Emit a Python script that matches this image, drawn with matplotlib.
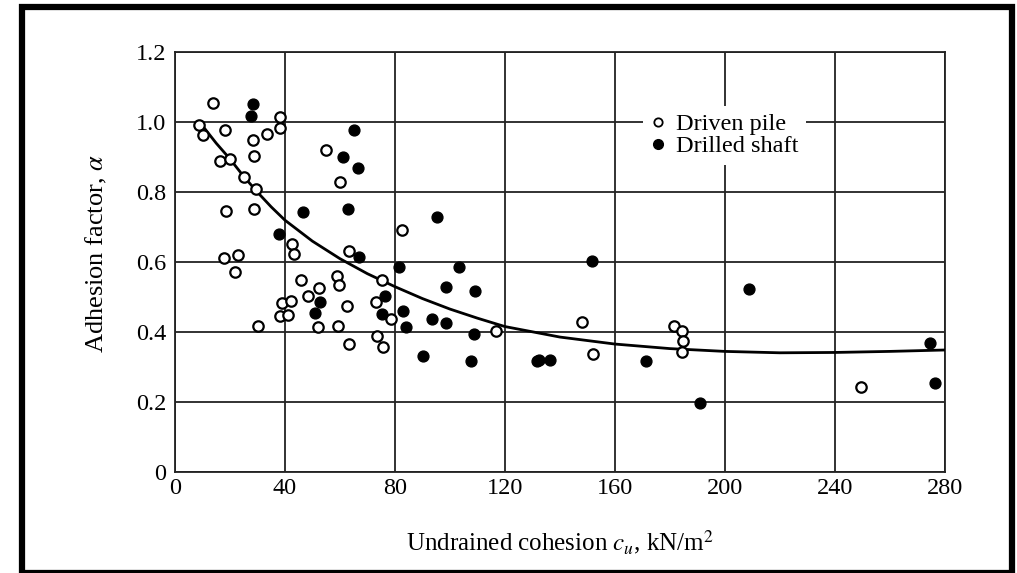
import matplotlib
matplotlib.use("Agg")
import matplotlib.pyplot as plt
from matplotlib.lines import Line2D
from matplotlib.patches import Rectangle

plt.rcParams["font.family"] = ["Liberation Serif", "DejaVu Serif"]
plt.rcParams["mathtext.fontset"] = "stix"

# Driven piles (open circles)
driven_cu = [8.7, 10.2, 13.8, 18.2, 28.4, 33.5, 38.2, 38.2, 16.4, 20.0, 28.7,
             25.1, 29.5, 18.5, 28.7, 42.5, 43.3, 60.0, 54.9, 63.3, 17.8, 22.9,
             21.8, 45.8, 52.4, 48.4, 58.9, 59.6, 38.9, 42.2, 38.2, 41.1, 62.5,
             30.2, 52.0, 59.3, 63.3, 82.5, 75.3, 73.1, 78.5, 73.5, 75.6, 116.7,
             148.0, 152.0, 181.5, 184.4, 184.7, 184.4, 249.5]
driven_alpha = [0.991, 0.963, 1.054, 0.977, 0.949, 0.966, 1.014, 0.983, 0.889,
                0.894, 0.903, 0.843, 0.809, 0.746, 0.751, 0.651, 0.623, 0.829,
                0.920, 0.631, 0.611, 0.620, 0.571, 0.549, 0.526, 0.503, 0.560,
                0.534, 0.483, 0.489, 0.446, 0.449, 0.474, 0.417, 0.414, 0.417,
                0.366, 0.691, 0.549, 0.486, 0.437, 0.389, 0.357, 0.403, 0.429,
                0.337, 0.417, 0.403, 0.374, 0.343, 0.243]

# Drilled shafts (filled circles)
drilled_cu = [28.4, 27.6, 65.1, 61.1, 66.5, 46.5, 62.9, 37.8, 66.9, 52.7, 50.9,
              95.3, 81.5, 103.3, 98.5, 109.1, 76.4, 82.9, 75.3, 93.5, 98.5, 84.0,
              108.7, 90.2, 107.6, 131.6, 151.6, 132.4, 136.4, 171.3, 191.0,
              208.7, 274.5, 276.4]
drilled_alpha = [1.051, 1.017, 0.977, 0.900, 0.869, 0.743, 0.751, 0.680, 0.614,
                 0.486, 0.454, 0.729, 0.585, 0.585, 0.529, 0.517, 0.503, 0.460,
                 0.451, 0.437, 0.426, 0.414, 0.394, 0.331, 0.317, 0.317, 0.603,
                 0.320, 0.320, 0.317, 0.197, 0.523, 0.369, 0.254]

# Average trend curve
trend_cu = [9, 15, 20, 25, 30, 35, 40, 50, 60, 70, 80, 90, 100, 110, 120, 140,
            160, 180, 200, 220, 240, 260, 280]
trend_alpha = [1.0, 0.94, 0.895, 0.845, 0.80, 0.758, 0.72, 0.66, 0.61, 0.567,
               0.53, 0.496, 0.466, 0.44, 0.416, 0.386, 0.366, 0.353, 0.345,
               0.341, 0.342, 0.345, 0.349]

x_ticks = [0, 40, 80, 120, 160, 200, 240, 280]
y_ticks = [0, 0.2, 0.4, 0.6, 0.8, 1.0, 1.2]
y_tick_labels = ["0", "0.2", "0.4", "0.6", "0.8", "1.0", "1.2"]

fig = plt.figure(figsize=(10.17, 5.73), dpi=100)
ax = fig.add_axes([0.172, 0.176, 0.757, 0.733])

ax.set_xlim(0, 280)
ax.set_ylim(0, 1.2)
ax.set_xticks(x_ticks)
ax.set_yticks(y_ticks)
ax.set_yticklabels(y_tick_labels)
ax.tick_params(length=0, labelsize=17.5)
ax.tick_params(axis="x", pad=4)
ax.tick_params(axis="y", pad=6)
ax.grid(True, color="#222222", linewidth=1.3, zorder=0)
ax.set_axisbelow(True)
for s in ax.spines.values():
    s.set_linewidth(1.3)
    s.set_color("#222222")

ax.plot(trend_cu, trend_alpha, color="black", linewidth=2.0, zorder=3)
ax.plot(driven_cu, driven_alpha, linestyle="none", marker="o", markersize=7.5,
        markerfacecolor="white", markeredgecolor="black", markeredgewidth=1.6,
        zorder=4)
ax.plot(drilled_cu, drilled_alpha, linestyle="none", marker="o",
        markersize=7.8, markerfacecolor="black", markeredgecolor="black",
        zorder=4)

handles = [
    Line2D([], [], linestyle="none", marker="o", markersize=6,
           markerfacecolor="white", markeredgecolor="black",
           markeredgewidth=1.3, label="Driven pile"),
    Line2D([], [], linestyle="none", marker="o", markersize=7,
           markerfacecolor="black", markeredgecolor="black",
           label="Drilled shaft"),
]
leg = ax.legend(handles=handles, loc="upper left",
                bbox_to_anchor=(0.608, 0.872), frameon=True, fancybox=False,
                framealpha=1.0, facecolor="white", edgecolor="none",
                fontsize=17.5, handlelength=0.6, handletextpad=0.45,
                borderpad=0.3, labelspacing=0.0, borderaxespad=0)
leg.set_zorder(5)

ax.set_xlabel(r"Undrained cohesion $c_u$, kN/m$^2$", fontsize=18)
ax.set_ylabel(r"Adhesion factor, $\alpha$", fontsize=19)
ax.xaxis.set_label_coords(0.5, -0.132)
ax.yaxis.set_label_coords(-0.085, 0.52)

# Black frame around the figure
fig.patches.append(Rectangle((0.0217, 0.0), 0.973, 0.988, transform=fig.transFigure,
                             fill=False, edgecolor="black", linewidth=4.5))

fig.savefig("out.png", dpi=100, facecolor="white")
